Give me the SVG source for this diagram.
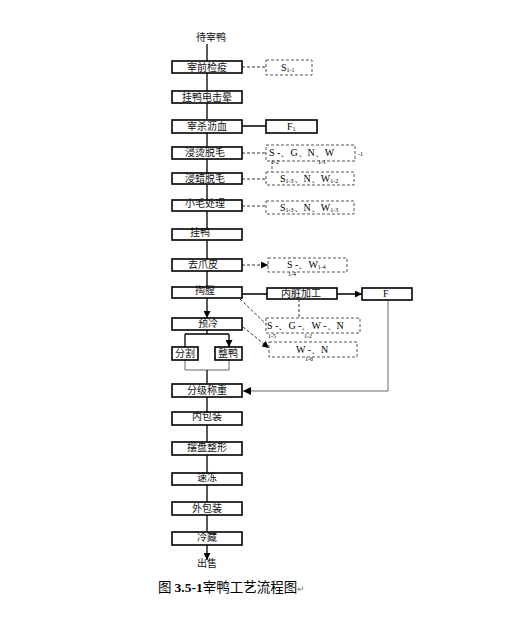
<svg xmlns="http://www.w3.org/2000/svg" width="510" height="623" viewBox="0 0 510 623">
<style>
.b{fill:#fff;stroke:#000;stroke-width:1.6}
.d{fill:none;stroke:#555;stroke-width:1;stroke-dasharray:3,2}
.t{font-family:"Noto Sans CJK SC",sans-serif;font-size:10px;fill:#111;text-anchor:middle}
.s{font-family:"Liberation Serif",serif;font-size:10px;fill:#000}
.ss{font-family:"Liberation Serif",serif;font-size:6px;fill:#000}
.l{fill:none;stroke:#000;stroke-width:1.3}
.g{fill:none;stroke:#666;stroke-width:1}
.dl{fill:none;stroke:#333;stroke-width:1;stroke-dasharray:3,2}
</style>
<defs>
<marker id="a" viewBox="0 0 10 10" refX="10" refY="5" markerWidth="7" markerHeight="7" markerUnits="userSpaceOnUse" orient="auto"><path d="M0,0L10,5L0,10z" fill="#000"/></marker>
</defs>
<g id="connectors">
<path class="l" d="M207,44V61M207,73V91M207,103V119M207,133V147M207,159V173M207,184V200M207,211V229M207,240V259M207,271V287M207,298V318" marker-end="url(#a)"/>
<path class="l" d="M207,330V334M185,334H229"/>
<path class="l" d="M185,334V347M229,334V347" marker-end="url(#a)"/>
<path class="g" d="M185,360V370H229V360"/>
<path class="l" d="M207,370V384M207,397V412M207,425V442M207,455V473M207,485V502M207,515V532M207,545V560" marker-end="url(#a)"/>
<path class="dl" d="M242,67H266M242,153H267M242,179H267M242,206H267M242,265H268" marker-end="url(#a)"/>
<path class="l" d="M242,126H266M242,294H267M337,294H362" marker-end="url(#a)"/>
<path class="dl" d="M299,299V318M240,299L266,324M243,327L269,348" marker-end="url(#a)"/>
<path class="g" d="M388,300V391H243"/>
<path d="M243,391l8,-4v8z" fill="#000"/>
</g>
<g id="n0"><text class="t" x="211" y="41">待宰鸭</text></g>
<g id="n1"><rect class="b" x="172" y="61" width="70" height="12"/><text class="t" x="207" y="71">宰前检疫</text></g>
<g id="n2"><rect class="b" x="172" y="91" width="70" height="12"/><text class="t" x="207" y="101">挂鸭电击晕</text></g>
<g id="n3"><rect class="b" x="172" y="120" width="70" height="13"/><text class="t" x="207" y="130">宰杀沥血</text></g>
<g id="n4"><rect class="b" x="172" y="147" width="70" height="12"/><text class="t" x="205" y="156">浸烫脱毛</text></g>
<g id="n5"><rect class="b" x="172" y="173" width="70" height="11"/><text class="t" x="205" y="182">浸蜡脱毛</text></g>
<g id="n6"><rect class="b" x="172" y="200" width="70" height="11"/><text class="t" x="205" y="207">小毛处理</text></g>
<g id="n7"><rect class="b" x="172" y="229" width="70" height="11"/><text class="t" x="200" y="236">挂鸭</text></g>
<g id="n8"><rect class="b" x="172" y="259" width="70" height="12"/><text class="t" x="203" y="268">去爪皮</text></g>
<g id="n9"><rect class="b" x="172" y="287" width="70" height="11"/><text class="t" x="205" y="294">掏膛</text></g>
<g id="n10"><rect class="b" x="172" y="318" width="70" height="12"/><text class="t" x="208" y="327">预冷</text></g>
<g id="n11"><rect class="b" x="172" y="347" width="26" height="13"/><text class="t" x="185" y="357">分割</text></g>
<g id="n12"><rect class="b" x="215" y="347" width="27" height="13"/><text class="t" x="228" y="357">整鸭</text></g>
<g id="n13"><rect class="b" x="172" y="384" width="70" height="13"/><text class="t" x="207" y="394">分级称重</text></g>
<g id="n14"><rect class="b" x="172" y="412" width="70" height="13"/><text class="t" x="207" y="420">内包装</text></g>
<g id="n15"><rect class="b" x="172" y="442" width="70" height="13"/><text class="t" x="207" y="451">摆盘整形</text></g>
<g id="n16"><rect class="b" x="172" y="473" width="70" height="12"/><text class="t" x="207" y="481">速冻</text></g>
<g id="n17"><rect class="b" x="172" y="502" width="70" height="13"/><text class="t" x="207" y="512">外包装</text></g>
<g id="n18"><rect class="b" x="172" y="532" width="70" height="13"/><text class="t" x="207" y="541">冷藏</text></g>
<g id="n19"><text class="t" x="207" y="567">出售</text></g>
<g id="s1"><rect class="d" x="266" y="60" width="46" height="15"/><text class="s" x="281" y="71">S<tspan class="ss" dy="1">1-1</tspan></text></g>
<g id="f1"><rect class="b" x="266" y="120" width="51" height="13"/><text class="s" x="287" y="130">F<tspan class="ss" dy="1">1</tspan></text></g>
<g id="s2"><rect class="d" x="266" y="145" width="89" height="16"/><text class="s" x="269" y="156">S -、G、N、W</text><text class="ss" x="358" y="156">-1</text><text class="ss" x="271" y="164">1-2</text><text class="ss" x="318" y="164">1-1</text><path class="d" d="M272,161V172"/></g>
<g id="s3"><rect class="d" x="266" y="172" width="88" height="13"/><text class="s" x="280" y="182">S<tspan class="ss" dy="1">1-3</tspan><tspan dy="-1">、N、W</tspan><tspan class="ss" dy="1">1-2</tspan></text></g>
<g id="s4"><rect class="d" x="266" y="201" width="88" height="13"/><text class="s" x="280" y="211">S<tspan class="ss" dy="1">1-3</tspan><tspan dy="-1">、N、W</tspan><tspan class="ss" dy="1">1-3</tspan></text></g>
<g id="s5"><rect class="d" x="268" y="258" width="79" height="14"/><text class="s" x="287" y="268">S -、W<tspan class="ss" dy="1">1-4</tspan></text><text class="ss" x="288" y="276">1-4</text></g>
<g id="n20"><rect class="b" x="267" y="288" width="70" height="11"/><text class="t" x="301" y="297">内脏加工</text></g>
<g id="f2"><rect class="b" x="362" y="288" width="50" height="12"/><text class="s" x="383" y="297">F</text></g>
<g id="s6"><rect class="d" x="266" y="318" width="94" height="15"/><text class="s" x="267" y="329">S -、G  -、W  -、N</text><text class="ss" x="268" y="338">1-5</text><text class="ss" x="304" y="338">1-2</text></g>
<g id="s7"><rect class="d" x="269" y="342" width="88" height="15"/><text class="s" x="296" y="353">W -、N</text><text class="ss" x="305" y="361">1-6</text></g>
<g id="caption"><text x="158" y="592" style="font-family:'Noto Sans CJK SC',sans-serif;font-size:13.5px">图 <tspan style="font-family:'Liberation Serif',serif;font-weight:bold">3.5-1</tspan>宰鸭工艺流程图<tspan style="font-size:9px;fill:#777">↵</tspan></text></g>
</svg>
